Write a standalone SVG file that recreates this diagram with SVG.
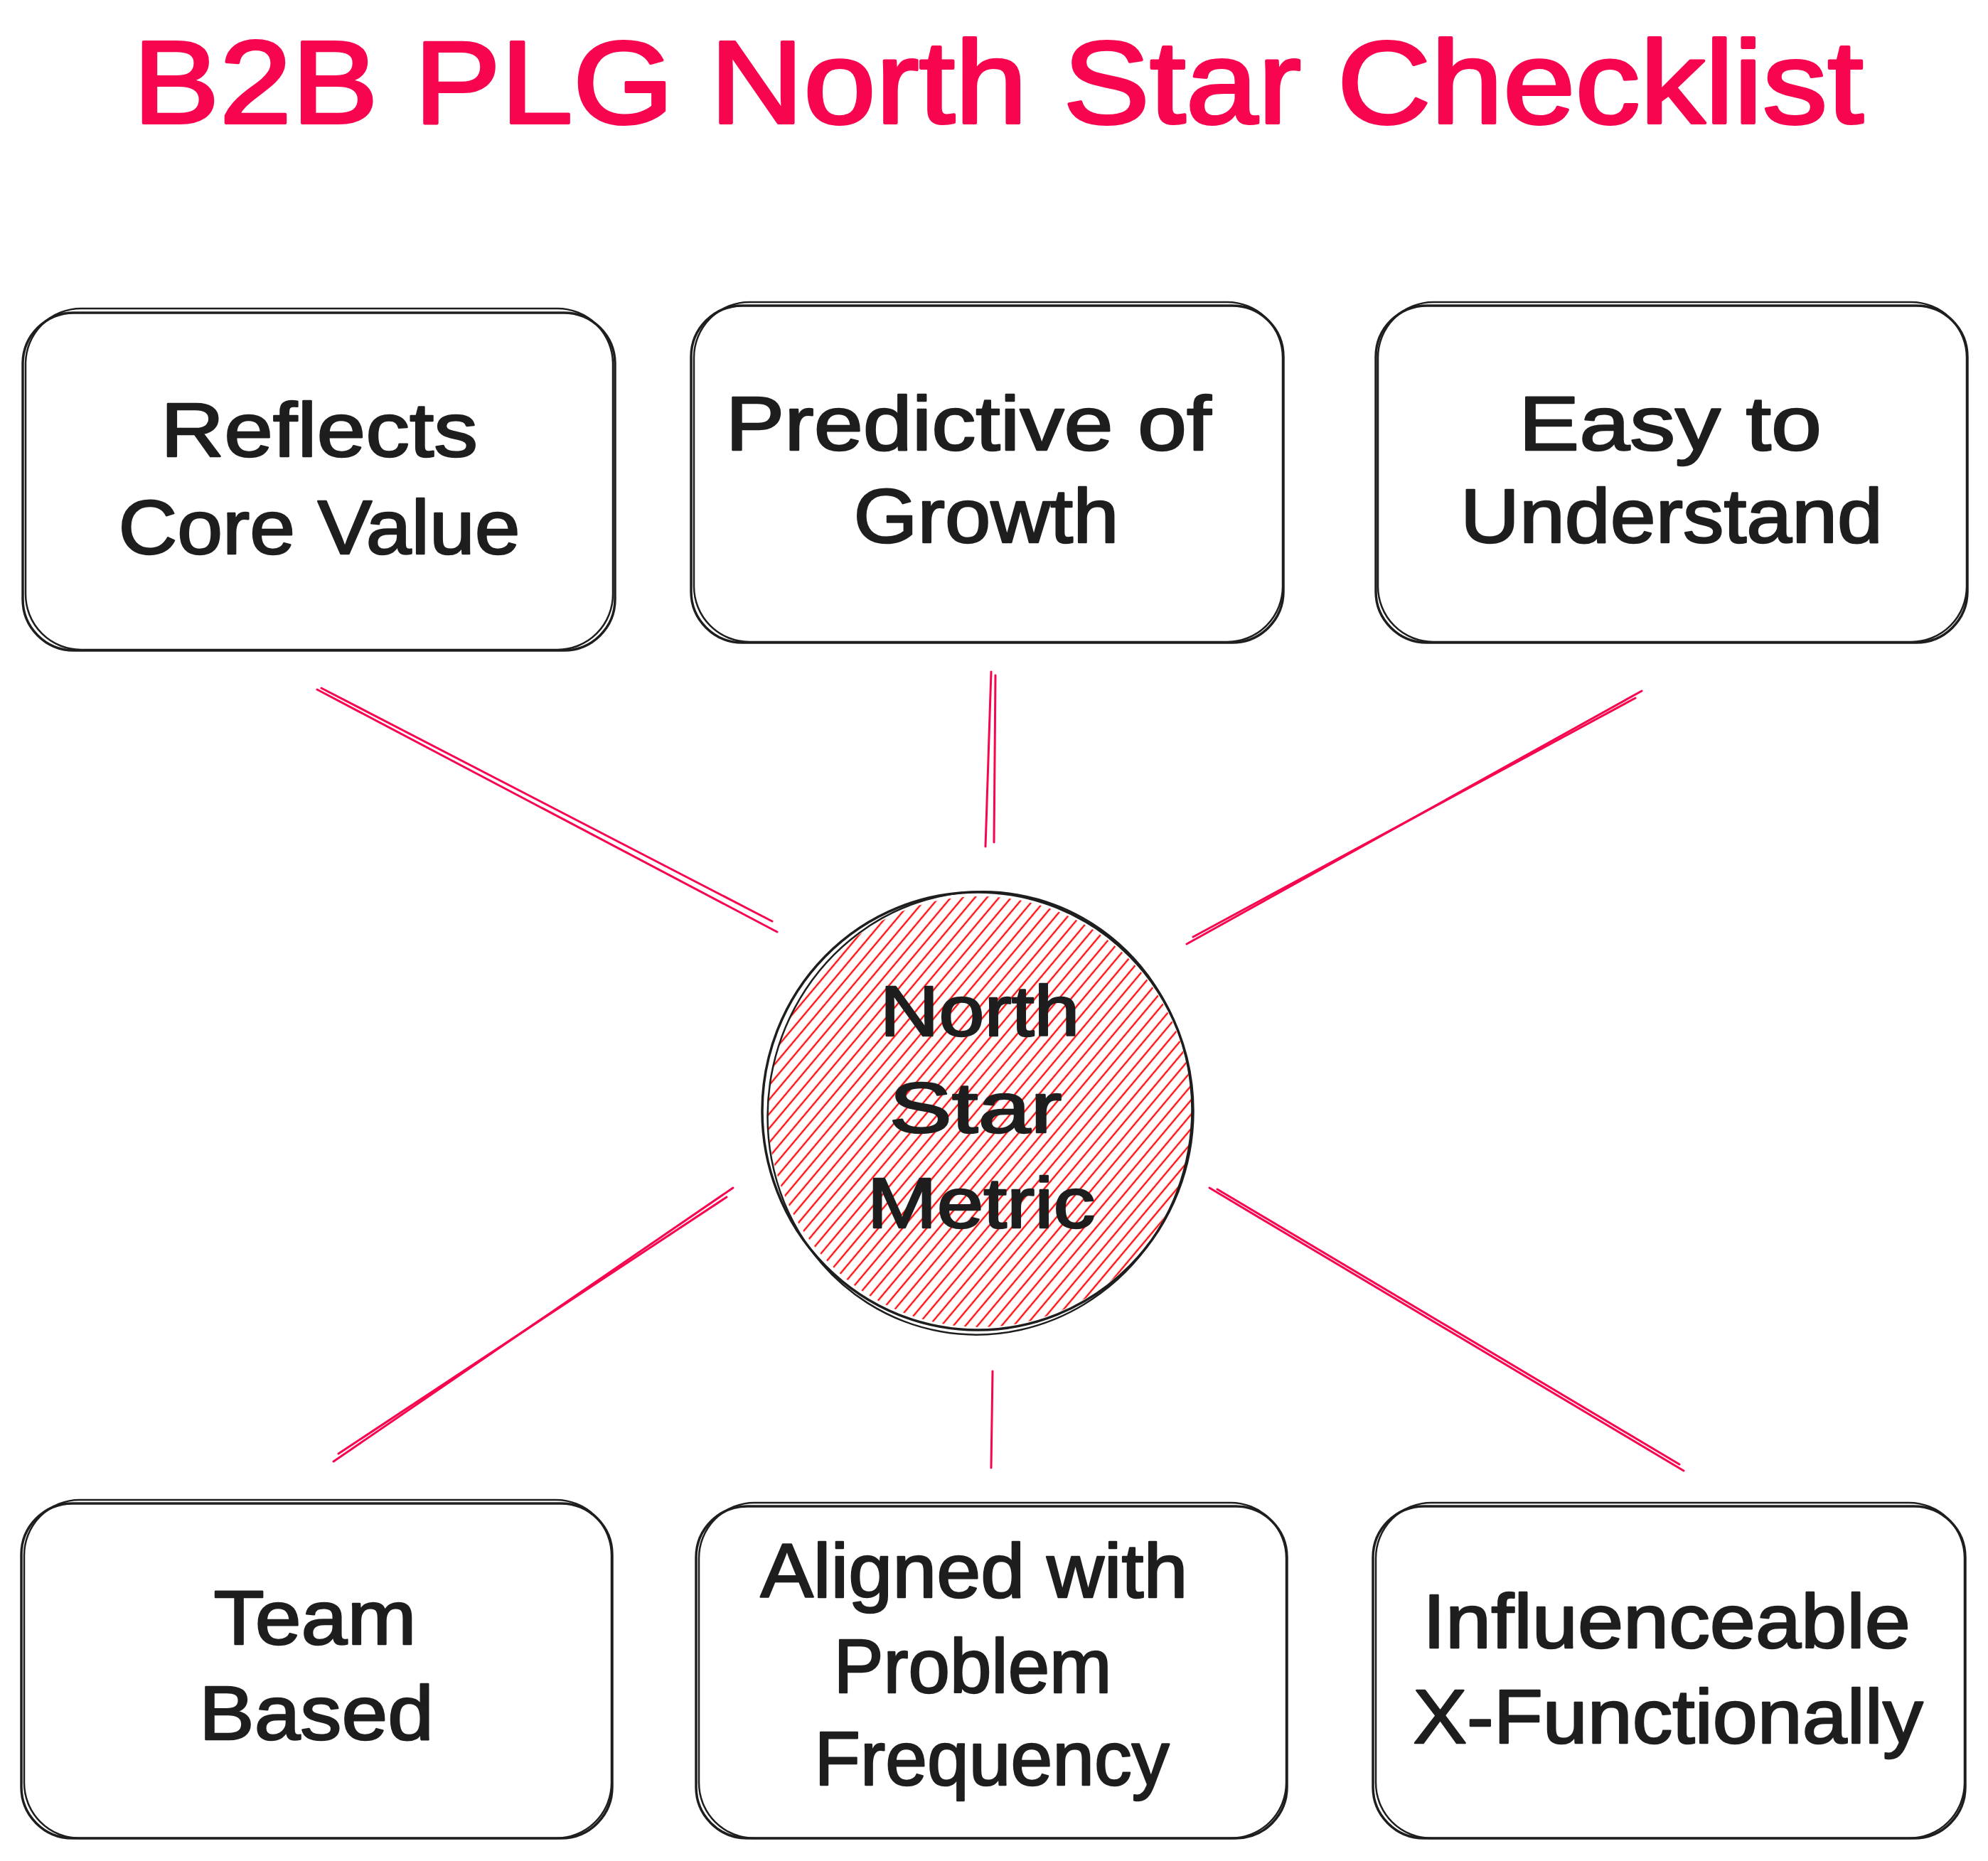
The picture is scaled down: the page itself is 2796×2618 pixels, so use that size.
<svg xmlns="http://www.w3.org/2000/svg" width="2796" height="2618" viewBox="0 0 2796 2618">
  <style>
    .box { fill: none; stroke: #1e1e1e; stroke-width: 3.5; }
    .box2 { fill: none; stroke: #1e1e1e; stroke-width: 2.5; }
    .lbl { font-family: "Liberation Sans", "DejaVu Sans", sans-serif; font-size: 108px; fill: #1e1e1e; stroke: #1e1e1e; stroke-width: 2.5; stroke-linejoin: round; text-anchor: middle; }
    .clbl { font-family: "Liberation Sans", "DejaVu Sans", sans-serif; font-size: 100px; fill: #1e1e1e; stroke: #1e1e1e; stroke-width: 2.5; stroke-linejoin: round; text-anchor: middle; }
    .title { font-family: "Liberation Sans", "DejaVu Sans", sans-serif; font-size: 165px; fill: #f7054f; stroke: #f7054f; stroke-width: 4; stroke-linejoin: round; text-anchor: middle; }
    .conn { stroke: #f7054f; stroke-width: 3; fill: none; stroke-linecap: round; }
  </style>
  <defs>
    <pattern id="hatch" patternUnits="userSpaceOnUse" width="13" height="13" patternTransform="rotate(40)">
      <line x1="3" y1="0" x2="3" y2="13" stroke="#ff1010" stroke-width="2.4"/>
    </pattern>
  </defs>
  <rect width="2796" height="2618" fill="#ffffff"/>

  <text id="title" class="title" x="1404" y="173" textLength="2434" lengthAdjust="spacingAndGlyphs">B2B PLG North Star Checklist</text>

  <g id="connectors">
    <line class="conn" x1="446" y1="970" x2="1093" y2="1311"/>
    <line class="conn" x1="452" y1="968" x2="1086" y2="1296"/>
    <line class="conn" x1="1394" y1="945" x2="1386" y2="1191"/>
    <line class="conn" x1="1400" y1="950" x2="1398" y2="1185"/>
    <line class="conn" x1="2309" y1="972" x2="1669" y2="1328"/>
    <line class="conn" x1="2300" y1="982" x2="1678" y2="1318"/>
    <line class="conn" x1="1031" y1="1671" x2="469" y2="2056"/>
    <line class="conn" x1="1022" y1="1684" x2="476" y2="2045"/>
    <line class="conn" x1="1396" y1="1929" x2="1394" y2="2065"/>
    <line class="conn" x1="1701" y1="1671" x2="2368" y2="2069"/>
    <line class="conn" x1="1712" y1="1673" x2="2362" y2="2060"/>
  </g>

  <g id="node-reflects">
    <rect class="box" x="32" y="440" width="833" height="475" rx="72"/>
    <rect class="box2" x="36" y="434" width="826" height="480" rx="78"/>
    <text class="lbl" x="449" y="642" textLength="446" lengthAdjust="spacingAndGlyphs">Reflects</text>
    <text class="lbl" x="449" y="779" textLength="565" lengthAdjust="spacingAndGlyphs">Core Value</text>
  </g>

  <g id="node-predictive">
    <rect class="box" x="972" y="430" width="833" height="474" rx="72"/>
    <rect class="box2" x="976" y="425" width="828" height="478" rx="78"/>
    <text class="lbl" x="1362" y="633" textLength="683" lengthAdjust="spacingAndGlyphs">Predictive of</text>
    <text class="lbl" x="1387" y="763" textLength="373" lengthAdjust="spacingAndGlyphs">Growth</text>
  </g>

  <g id="node-easy">
    <rect class="box" x="1935" y="430" width="832" height="474" rx="72"/>
    <rect class="box2" x="1938" y="425" width="828" height="478" rx="78"/>
    <text class="lbl" x="2349" y="633" textLength="426" lengthAdjust="spacingAndGlyphs">Easy to</text>
    <text class="lbl" x="2351" y="763" textLength="594" lengthAdjust="spacingAndGlyphs">Understand</text>
  </g>

  <g id="node-team">
    <rect class="box" x="30" y="2115" width="831" height="471" rx="72"/>
    <rect class="box2" x="34" y="2110" width="826" height="476" rx="78"/>
    <text class="lbl" x="443" y="2313" textLength="285" lengthAdjust="spacingAndGlyphs">Team</text>
    <text class="lbl" x="445" y="2447" textLength="330" lengthAdjust="spacingAndGlyphs">Based</text>
  </g>

  <g id="node-aligned">
    <rect class="box" x="979" y="2119" width="831" height="467" rx="72"/>
    <rect class="box2" x="983" y="2114" width="826" height="472" rx="78"/>
    <text class="lbl" x="1370" y="2247" textLength="601" lengthAdjust="spacingAndGlyphs">Aligned with</text>
    <text class="lbl" x="1368" y="2381" textLength="391" lengthAdjust="spacingAndGlyphs">Problem</text>
    <text class="lbl" x="1395" y="2511" textLength="499" lengthAdjust="spacingAndGlyphs">Frequency</text>
  </g>

  <g id="node-influenceable">
    <rect class="box" x="1931" y="2119" width="833" height="467" rx="72"/>
    <rect class="box2" x="1935" y="2114" width="828" height="472" rx="78"/>
    <text class="lbl" x="2344" y="2318" textLength="686" lengthAdjust="spacingAndGlyphs">Influenceable</text>
    <text class="lbl" x="2346" y="2452" textLength="717" lengthAdjust="spacingAndGlyphs">X-Functionally</text>
  </g>

  <g id="node-north-star">
    <ellipse cx="1378" cy="1564" rx="298" ry="303" fill="url(#hatch)" stroke="none"/>
    <ellipse class="box" cx="1375" cy="1563" rx="303" ry="308"/>
    <ellipse class="box2" cx="1378" cy="1566" rx="298" ry="312" transform="rotate(10 1378 1566)"/>
    <text class="clbl" x="1378" y="1457" textLength="281" lengthAdjust="spacingAndGlyphs">North</text>
    <text class="clbl" x="1372" y="1593" textLength="243" lengthAdjust="spacingAndGlyphs">Star</text>
    <text class="clbl" x="1380" y="1727" textLength="321" lengthAdjust="spacingAndGlyphs">Metric</text>
  </g>
</svg>
